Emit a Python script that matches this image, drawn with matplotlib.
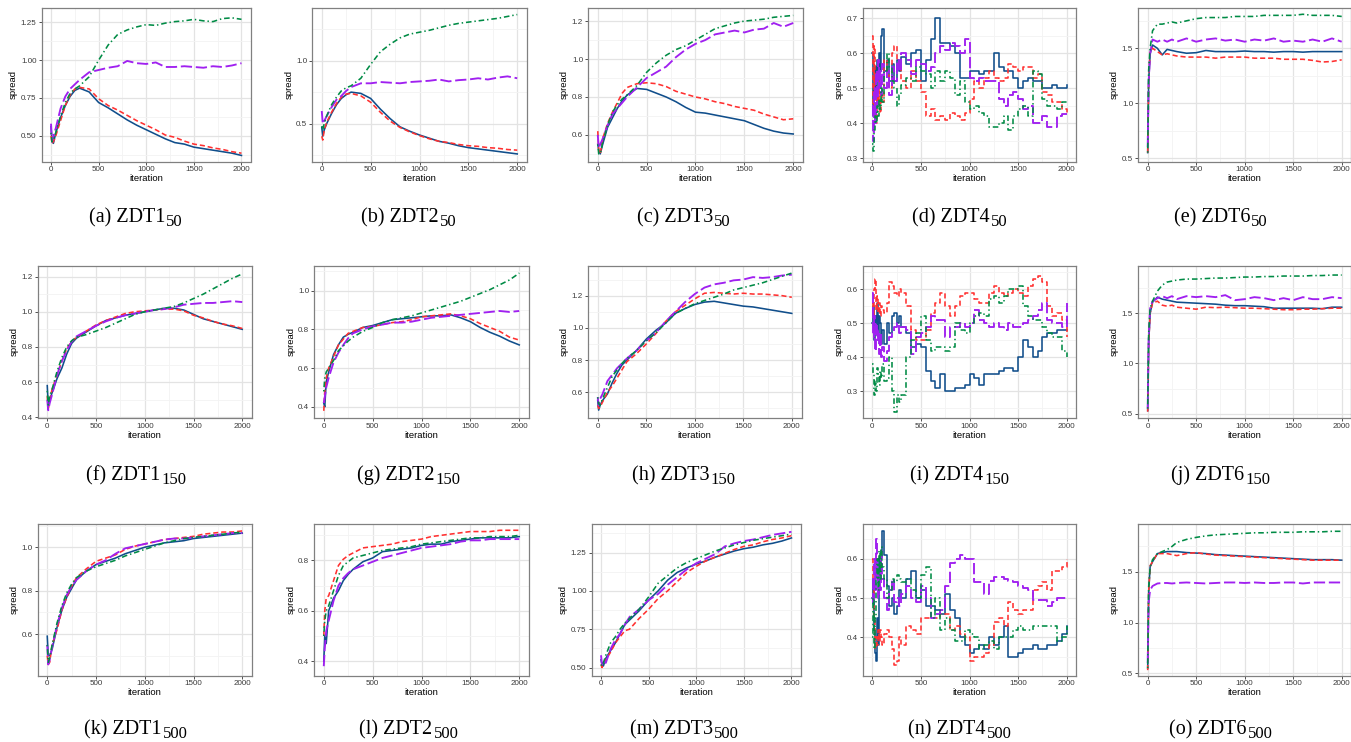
import matplotlib
matplotlib.use("Agg")
import matplotlib.pyplot as plt
from matplotlib.ticker import AutoMinorLocator, FixedLocator

plt.rcParams['font.family'] = ['Liberation Sans', 'DejaVu Sans']

# iteration grids
it_smooth = [0, 10, 25, 50, 100, 150, 200, 250, 300, 400, 500, 600, 700, 800, 900,
             1000, 1100, 1200, 1300, 1400, 1500, 1600, 1700, 1800, 1900, 2000]
it_rough = [0, 10, 20, 30, 40, 50, 60, 70, 80, 90, 100, 125, 150, 175, 200, 225, 250, 275, 300,
            350, 400, 450, 500, 550, 600, 650, 700, 750, 800, 850, 900, 950, 1000, 1050, 1100,
            1150, 1200, 1250, 1300, 1350, 1400, 1450, 1500, 1550, 1600, 1650, 1700, 1750, 1800,
            1850, 1900, 1950, 2000]

# ---- ZDT1, 50
zdt1_50_blue = [0.56, 0.47, 0.45, 0.52, 0.62, 0.70, 0.76, 0.80, 0.815, 0.79, 0.72, 0.685, 0.645, 0.605, 0.57, 0.54, 0.51, 0.48, 0.455, 0.445, 0.425, 0.415, 0.405, 0.395, 0.385, 0.37]
zdt1_50_red = [0.50, 0.45, 0.46, 0.50, 0.60, 0.70, 0.77, 0.81, 0.82, 0.81, 0.745, 0.70, 0.67, 0.635, 0.60, 0.57, 0.54, 0.505, 0.49, 0.465, 0.445, 0.435, 0.42, 0.41, 0.395, 0.385]
zdt1_50_purple = [0.58, 0.46, 0.50, 0.55, 0.68, 0.76, 0.81, 0.84, 0.87, 0.92, 0.935, 0.95, 0.96, 0.995, 0.98, 0.975, 0.985, 0.955, 0.955, 0.96, 0.955, 0.95, 0.96, 0.955, 0.965, 0.98]
zdt1_50_green = [0.52, 0.46, 0.47, 0.52, 0.63, 0.72, 0.78, 0.81, 0.83, 0.89, 1.00, 1.10, 1.17, 1.20, 1.22, 1.235, 1.23, 1.245, 1.255, 1.26, 1.27, 1.26, 1.255, 1.275, 1.28, 1.27]

# ---- ZDT2, 50
zdt2_50_blue = [0.47, 0.40, 0.45, 0.50, 0.58, 0.65, 0.70, 0.73, 0.75, 0.74, 0.70, 0.615, 0.54, 0.475, 0.44, 0.41, 0.385, 0.36, 0.345, 0.325, 0.31, 0.30, 0.29, 0.28, 0.27, 0.26]
zdt2_50_red = [0.40, 0.37, 0.45, 0.51, 0.59, 0.66, 0.71, 0.735, 0.74, 0.72, 0.67, 0.59, 0.52, 0.47, 0.435, 0.405, 0.38, 0.36, 0.35, 0.335, 0.325, 0.32, 0.31, 0.305, 0.295, 0.29]
zdt2_50_purple = [0.60, 0.50, 0.52, 0.56, 0.63, 0.69, 0.72, 0.76, 0.79, 0.82, 0.82, 0.83, 0.825, 0.82, 0.83, 0.835, 0.84, 0.85, 0.835, 0.845, 0.85, 0.86, 0.85, 0.865, 0.875, 0.86]
zdt2_50_green = [0.48, 0.45, 0.50, 0.56, 0.65, 0.71, 0.76, 0.785, 0.80, 0.86, 0.97, 1.07, 1.13, 1.18, 1.21, 1.225, 1.24, 1.26, 1.28, 1.295, 1.305, 1.315, 1.325, 1.335, 1.35, 1.365]

# ---- ZDT3, 50
zdt3_50_blue = [0.55, 0.52, 0.50, 0.55, 0.64, 0.69, 0.74, 0.78, 0.81, 0.845, 0.84, 0.82, 0.80, 0.775, 0.745, 0.72, 0.715, 0.705, 0.695, 0.685, 0.675, 0.655, 0.635, 0.62, 0.61, 0.605]
zdt3_50_red = [0.62, 0.52, 0.50, 0.58, 0.66, 0.72, 0.77, 0.82, 0.85, 0.87, 0.875, 0.87, 0.855, 0.83, 0.815, 0.80, 0.79, 0.775, 0.765, 0.75, 0.74, 0.73, 0.71, 0.695, 0.68, 0.685]
zdt3_50_purple = [0.60, 0.53, 0.55, 0.58, 0.65, 0.71, 0.74, 0.77, 0.80, 0.85, 0.90, 0.93, 0.96, 1.01, 1.05, 1.08, 1.10, 1.13, 1.14, 1.15, 1.14, 1.155, 1.16, 1.19, 1.17, 1.19]
zdt3_50_green = [0.55, 0.50, 0.50, 0.56, 0.65, 0.72, 0.76, 0.79, 0.81, 0.86, 0.93, 0.98, 1.02, 1.05, 1.07, 1.10, 1.13, 1.16, 1.175, 1.19, 1.20, 1.205, 1.21, 1.22, 1.225, 1.23]

# ---- ZDT4, 50
zdt4_50_blue = [0.60, 0.42, 0.50, 0.56, 0.47, 0.58, 0.52, 0.60, 0.55, 0.65, 0.67, 0.55, 0.58, 0.52, 0.57, 0.52, 0.58, 0.55, 0.59,
                0.57, 0.60, 0.61, 0.52, 0.58, 0.64, 0.70, 0.63, 0.63, 0.62, 0.60, 0.53, 0.53, 0.55, 0.55, 0.54, 0.55, 0.55,
                0.60, 0.56, 0.55, 0.55, 0.53, 0.50, 0.52, 0.53, 0.52, 0.52, 0.50, 0.50, 0.51, 0.50, 0.50, 0.51]
zdt4_50_red = [0.65, 0.45, 0.62, 0.48, 0.40, 0.50, 0.45, 0.52, 0.43, 0.48, 0.46, 0.58, 0.55, 0.50, 0.60, 0.62, 0.58, 0.56, 0.52,
               0.50, 0.55, 0.52, 0.49, 0.42, 0.44, 0.41, 0.42, 0.41, 0.43, 0.42, 0.41, 0.43, 0.47, 0.52, 0.50, 0.53, 0.55,
               0.53, 0.52, 0.53, 0.57, 0.56, 0.55, 0.56, 0.56, 0.53, 0.54, 0.49, 0.48, 0.46, 0.46, 0.44, 0.43]
zdt4_50_purple = [0.45, 0.35, 0.50, 0.40, 0.55, 0.45, 0.58, 0.50, 0.55, 0.48, 0.57, 0.50, 0.55, 0.48, 0.56, 0.52, 0.58, 0.55, 0.60,
                  0.58, 0.54, 0.58, 0.57, 0.55, 0.56, 0.60, 0.62, 0.61, 0.63, 0.62, 0.60, 0.64, 0.53, 0.52, 0.53, 0.52, 0.52,
                  0.52, 0.47, 0.45, 0.48, 0.49, 0.47, 0.44, 0.45, 0.40, 0.40, 0.42, 0.39, 0.39, 0.42, 0.425, 0.425]
zdt4_50_green = [0.34, 0.32, 0.38, 0.42, 0.40, 0.45, 0.42, 0.47, 0.44, 0.50, 0.46, 0.55, 0.60, 0.56, 0.52, 0.50, 0.45, 0.48, 0.51,
                 0.53, 0.52, 0.56, 0.55, 0.54, 0.50, 0.55, 0.52, 0.55, 0.53, 0.48, 0.52, 0.46, 0.44, 0.45, 0.43, 0.42, 0.39,
                 0.39, 0.40, 0.42, 0.38, 0.42, 0.44, 0.45, 0.42, 0.55, 0.54, 0.47, 0.45, 0.45, 0.44, 0.46, 0.46]

# ---- ZDT6, 50
zdt6_50_blue = [0.55, 1.20, 1.45, 1.53, 1.50, 1.44, 1.49, 1.48, 1.47, 1.455, 1.46, 1.48, 1.47, 1.47, 1.47, 1.475, 1.47, 1.47, 1.465, 1.47, 1.47, 1.465, 1.47, 1.47, 1.47, 1.47]
zdt6_50_red = [0.55, 1.20, 1.48, 1.50, 1.47, 1.44, 1.45, 1.44, 1.43, 1.42, 1.42, 1.42, 1.41, 1.42, 1.42, 1.42, 1.41, 1.41, 1.41, 1.40, 1.40, 1.40, 1.39, 1.375, 1.38, 1.395]
zdt6_50_purple = [0.60, 1.20, 1.45, 1.58, 1.56, 1.58, 1.56, 1.58, 1.56, 1.59, 1.56, 1.58, 1.59, 1.57, 1.58, 1.56, 1.58, 1.57, 1.59, 1.56, 1.57, 1.56, 1.58, 1.56, 1.59, 1.56]
zdt6_50_green = [0.55, 1.30, 1.50, 1.66, 1.72, 1.72, 1.73, 1.74, 1.73, 1.75, 1.77, 1.78, 1.78, 1.78, 1.79, 1.79, 1.79, 1.80, 1.80, 1.80, 1.80, 1.81, 1.80, 1.80, 1.80, 1.79]

# ---- ZDT1, 150
zdt1_150_blue = [0.58, 0.47, 0.50, 0.54, 0.62, 0.68, 0.76, 0.82, 0.85, 0.885, 0.92, 0.95, 0.965, 0.98, 0.99, 1.00, 1.01, 1.02, 1.02, 1.01, 0.985, 0.96, 0.945, 0.93, 0.915, 0.90]
zdt1_150_red = [0.52, 0.44, 0.50, 0.56, 0.64, 0.72, 0.79, 0.83, 0.855, 0.89, 0.925, 0.95, 0.97, 0.99, 1.00, 1.005, 1.01, 1.015, 1.015, 1.005, 0.98, 0.965, 0.945, 0.93, 0.92, 0.905]
zdt1_150_purple = [0.50, 0.44, 0.48, 0.53, 0.64, 0.72, 0.78, 0.83, 0.86, 0.89, 0.92, 0.945, 0.965, 0.98, 0.99, 1.00, 1.01, 1.015, 1.025, 1.04, 1.045, 1.05, 1.05, 1.055, 1.06, 1.055]
zdt1_150_green = [0.55, 0.47, 0.52, 0.56, 0.66, 0.74, 0.80, 0.835, 0.855, 0.87, 0.89, 0.91, 0.935, 0.96, 0.985, 1.00, 1.01, 1.02, 1.03, 1.05, 1.075, 1.10, 1.13, 1.16, 1.19, 1.215]

# ---- ZDT2, 150
zdt2_150_blue = [0.42, 0.40, 0.53, 0.58, 0.67, 0.72, 0.76, 0.775, 0.785, 0.81, 0.82, 0.835, 0.85, 0.855, 0.86, 0.865, 0.87, 0.87, 0.875, 0.86, 0.84, 0.81, 0.785, 0.765, 0.74, 0.72]
zdt2_150_red = [0.38, 0.48, 0.55, 0.60, 0.66, 0.72, 0.75, 0.78, 0.79, 0.81, 0.815, 0.825, 0.835, 0.84, 0.85, 0.865, 0.87, 0.875, 0.88, 0.87, 0.855, 0.83, 0.81, 0.79, 0.76, 0.745]
zdt2_150_purple = [0.42, 0.45, 0.50, 0.55, 0.63, 0.68, 0.72, 0.755, 0.78, 0.80, 0.815, 0.825, 0.835, 0.835, 0.84, 0.85, 0.86, 0.865, 0.87, 0.875, 0.88, 0.885, 0.89, 0.895, 0.89, 0.895]
zdt2_150_green = [0.48, 0.55, 0.58, 0.60, 0.64, 0.69, 0.715, 0.74, 0.76, 0.79, 0.81, 0.835, 0.85, 0.86, 0.87, 0.885, 0.90, 0.915, 0.93, 0.945, 0.965, 0.985, 1.005, 1.03, 1.055, 1.09]

# ---- ZDT3, 150
zdt3_150_blue = [0.55, 0.49, 0.52, 0.55, 0.59, 0.66, 0.72, 0.77, 0.80, 0.86, 0.93, 0.985, 1.03, 1.09, 1.12, 1.145, 1.16, 1.165, 1.155, 1.145, 1.135, 1.13, 1.12, 1.11, 1.10, 1.09]
zdt3_150_red = [0.52, 0.50, 0.51, 0.54, 0.60, 0.64, 0.69, 0.74, 0.79, 0.84, 0.90, 0.965, 1.04, 1.10, 1.14, 1.18, 1.215, 1.22, 1.215, 1.21, 1.215, 1.21, 1.21, 1.205, 1.20, 1.19]
zdt3_150_purple = [0.57, 0.52, 0.56, 0.59, 0.67, 0.71, 0.75, 0.78, 0.81, 0.86, 0.92, 0.97, 1.04, 1.10, 1.16, 1.21, 1.25, 1.27, 1.28, 1.295, 1.30, 1.315, 1.31, 1.315, 1.325, 1.33]
zdt3_150_green = [0.57, 0.53, 0.52, 0.56, 0.63, 0.70, 0.74, 0.78, 0.81, 0.86, 0.92, 0.97, 1.03, 1.09, 1.12, 1.15, 1.17, 1.19, 1.21, 1.235, 1.25, 1.265, 1.28, 1.30, 1.32, 1.34]

# ---- ZDT4, 150
zdt4_150_blue = [0.50, 0.55, 0.45, 0.52, 0.48, 0.56, 0.47, 0.52, 0.50, 0.44, 0.48, 0.44, 0.50, 0.47, 0.52, 0.53, 0.50, 0.52, 0.49,
                 0.47, 0.43, 0.44, 0.43, 0.36, 0.33, 0.31, 0.35, 0.30, 0.30, 0.31, 0.31, 0.32, 0.35, 0.34, 0.32, 0.35, 0.35,
                 0.35, 0.36, 0.37, 0.37, 0.36, 0.40, 0.45, 0.43, 0.40, 0.42, 0.46, 0.47, 0.47, 0.48, 0.48, 0.48]
zdt4_150_red = [0.56, 0.52, 0.60, 0.63, 0.54, 0.58, 0.53, 0.56, 0.52, 0.55, 0.54, 0.53, 0.56, 0.62, 0.61, 0.59, 0.58, 0.60, 0.59,
                0.55, 0.48, 0.45, 0.45, 0.48, 0.53, 0.56, 0.59, 0.55, 0.52, 0.55, 0.58, 0.59, 0.59, 0.57, 0.56, 0.56, 0.59,
                0.61, 0.59, 0.58, 0.59, 0.60, 0.59, 0.58, 0.61, 0.63, 0.64, 0.62, 0.55, 0.52, 0.53, 0.51, 0.46]
zdt4_150_purple = [0.59, 0.46, 0.52, 0.42, 0.50, 0.45, 0.48, 0.41, 0.47, 0.40, 0.43, 0.39, 0.42, 0.46, 0.47, 0.49, 0.50, 0.47, 0.49,
                   0.48, 0.41, 0.46, 0.47, 0.49, 0.52, 0.51, 0.51, 0.46, 0.49, 0.49, 0.50, 0.49, 0.50, 0.54, 0.51, 0.50, 0.49,
                   0.50, 0.49, 0.48, 0.50, 0.49, 0.49, 0.50, 0.51, 0.52, 0.54, 0.56, 0.51, 0.50, 0.50, 0.49, 0.56]
zdt4_150_green = [0.38, 0.35, 0.29, 0.33, 0.30, 0.37, 0.35, 0.32, 0.36, 0.34, 0.38, 0.33, 0.34, 0.40, 0.30, 0.24, 0.29, 0.27, 0.29,
                  0.40, 0.45, 0.47, 0.52, 0.45, 0.42, 0.43, 0.43, 0.42, 0.43, 0.50, 0.48, 0.47, 0.50, 0.52, 0.53, 0.52, 0.57,
                  0.58, 0.56, 0.58, 0.60, 0.60, 0.61, 0.55, 0.52, 0.51, 0.51, 0.49, 0.47, 0.46, 0.46, 0.42, 0.40]

# ---- ZDT6, 150
zdt6_150_blue = [0.53, 1.20, 1.50, 1.61, 1.66, 1.64, 1.63, 1.62, 1.61, 1.605, 1.60, 1.595, 1.59, 1.58, 1.575, 1.575, 1.57, 1.565, 1.55, 1.55, 1.55, 1.55, 1.55, 1.545, 1.56, 1.56]
zdt6_150_red = [0.52, 1.20, 1.50, 1.60, 1.62, 1.58, 1.57, 1.58, 1.56, 1.55, 1.54, 1.56, 1.555, 1.56, 1.555, 1.55, 1.55, 1.545, 1.54, 1.535, 1.535, 1.54, 1.54, 1.545, 1.55, 1.55]
zdt6_150_purple = [0.55, 1.25, 1.55, 1.62, 1.65, 1.67, 1.65, 1.67, 1.64, 1.67, 1.66, 1.67, 1.66, 1.68, 1.63, 1.64, 1.66, 1.65, 1.63, 1.65, 1.63, 1.66, 1.64, 1.64, 1.66, 1.65]
zdt6_150_green = [0.55, 1.30, 1.55, 1.62, 1.72, 1.78, 1.81, 1.82, 1.83, 1.84, 1.84, 1.845, 1.85, 1.85, 1.855, 1.86, 1.86, 1.865, 1.865, 1.87, 1.87, 1.87, 1.875, 1.875, 1.88, 1.88]

# ---- ZDT1, 500
zdt1_500_blue = [0.59, 0.50, 0.50, 0.53, 0.63, 0.71, 0.77, 0.81, 0.85, 0.89, 0.92, 0.935, 0.95, 0.97, 0.985, 1.00, 1.01, 1.02, 1.025, 1.03, 1.04, 1.045, 1.05, 1.055, 1.06, 1.065]
zdt1_500_red = [0.50, 0.46, 0.47, 0.55, 0.62, 0.71, 0.77, 0.82, 0.86, 0.90, 0.935, 0.95, 0.965, 0.99, 1.005, 1.015, 1.025, 1.035, 1.04, 1.045, 1.05, 1.06, 1.065, 1.07, 1.07, 1.075]
zdt1_500_purple = [0.55, 0.46, 0.48, 0.54, 0.64, 0.72, 0.78, 0.82, 0.85, 0.89, 0.92, 0.94, 0.97, 0.995, 1.005, 1.015, 1.025, 1.035, 1.04, 1.04, 1.045, 1.05, 1.055, 1.06, 1.065, 1.065]
zdt1_500_green = [0.55, 0.47, 0.49, 0.55, 0.65, 0.73, 0.79, 0.83, 0.86, 0.89, 0.91, 0.925, 0.94, 0.96, 0.975, 0.99, 1.005, 1.02, 1.03, 1.04, 1.045, 1.05, 1.055, 1.06, 1.065, 1.07]

# ---- ZDT2, 500
zdt2_500_blue = [0.40, 0.50, 0.47, 0.60, 0.65, 0.68, 0.72, 0.745, 0.765, 0.795, 0.81, 0.835, 0.84, 0.845, 0.85, 0.86, 0.865, 0.865, 0.875, 0.88, 0.885, 0.89, 0.89, 0.89, 0.89, 0.895]
zdt2_500_red = [0.50, 0.60, 0.65, 0.66, 0.72, 0.78, 0.805, 0.82, 0.83, 0.85, 0.855, 0.86, 0.865, 0.875, 0.88, 0.885, 0.895, 0.90, 0.905, 0.91, 0.915, 0.915, 0.915, 0.92, 0.92, 0.92]
zdt2_500_purple = [0.38, 0.45, 0.52, 0.56, 0.64, 0.70, 0.73, 0.75, 0.765, 0.78, 0.795, 0.81, 0.82, 0.83, 0.84, 0.85, 0.855, 0.86, 0.865, 0.875, 0.88, 0.88, 0.885, 0.885, 0.885, 0.885]
zdt2_500_green = [0.50, 0.56, 0.60, 0.62, 0.68, 0.74, 0.78, 0.795, 0.81, 0.82, 0.83, 0.84, 0.845, 0.85, 0.855, 0.865, 0.87, 0.875, 0.88, 0.885, 0.89, 0.89, 0.895, 0.895, 0.895, 0.90]

# ---- ZDT3, 500
zdt3_500_blue = [0.55, 0.52, 0.51, 0.56, 0.61, 0.66, 0.72, 0.78, 0.81, 0.87, 0.94, 1.00, 1.07, 1.12, 1.15, 1.175, 1.195, 1.22, 1.24, 1.26, 1.275, 1.285, 1.30, 1.31, 1.325, 1.345]
zdt3_500_red = [0.52, 0.50, 0.53, 0.55, 0.60, 0.66, 0.70, 0.74, 0.75, 0.82, 0.88, 0.95, 1.00, 1.06, 1.12, 1.16, 1.195, 1.22, 1.245, 1.27, 1.29, 1.30, 1.32, 1.335, 1.345, 1.36]
zdt3_500_purple = [0.58, 0.52, 0.55, 0.53, 0.62, 0.68, 0.72, 0.78, 0.83, 0.88, 0.94, 0.98, 1.04, 1.09, 1.14, 1.18, 1.21, 1.24, 1.29, 1.31, 1.325, 1.335, 1.35, 1.365, 1.375, 1.385]
zdt3_500_green = [0.52, 0.51, 0.53, 0.58, 0.66, 0.70, 0.75, 0.79, 0.82, 0.88, 0.96, 1.05, 1.10, 1.15, 1.185, 1.21, 1.235, 1.26, 1.28, 1.30, 1.315, 1.33, 1.34, 1.35, 1.36, 1.37]

# ---- ZDT4, 500
zdt4_500_blue = [0.50, 0.55, 0.42, 0.36, 0.34, 0.45, 0.38, 0.60, 0.55, 0.62, 0.67, 0.61, 0.53, 0.48, 0.50, 0.46, 0.48, 0.52, 0.50,
                 0.55, 0.57, 0.50, 0.52, 0.48, 0.48, 0.47, 0.46, 0.51, 0.47, 0.45, 0.40, 0.38, 0.36, 0.37, 0.38, 0.37, 0.40,
                 0.38, 0.40, 0.43, 0.35, 0.35, 0.36, 0.37, 0.37, 0.38, 0.37, 0.37, 0.38, 0.38, 0.39, 0.41, 0.43]
zdt4_500_red = [0.60, 0.55, 0.45, 0.37, 0.40, 0.38, 0.42, 0.39, 0.42, 0.40, 0.38, 0.41, 0.42, 0.40, 0.37, 0.33, 0.34, 0.40, 0.38,
                0.43, 0.42, 0.41, 0.45, 0.45, 0.45, 0.45, 0.46, 0.46, 0.42, 0.43, 0.41, 0.40, 0.34, 0.35, 0.35, 0.36, 0.38,
                0.44, 0.45, 0.43, 0.49, 0.47, 0.46, 0.47, 0.47, 0.52, 0.53, 0.54, 0.52, 0.57, 0.57, 0.58, 0.60]
zdt4_500_purple = [0.55, 0.48, 0.60, 0.52, 0.65, 0.55, 0.50, 0.58, 0.52, 0.62, 0.55, 0.50, 0.47, 0.52, 0.55, 0.49, 0.50, 0.48, 0.51,
                   0.53, 0.50, 0.49, 0.53, 0.50, 0.45, 0.46, 0.47, 0.53, 0.59, 0.60, 0.61, 0.60, 0.60, 0.54, 0.54, 0.51, 0.545,
                   0.555, 0.555, 0.55, 0.545, 0.54, 0.53, 0.525, 0.52, 0.495, 0.495, 0.495, 0.48, 0.49, 0.50, 0.50, 0.495]
zdt4_500_green = [0.40, 0.50, 0.37, 0.45, 0.55, 0.60, 0.52, 0.62, 0.55, 0.63, 0.58, 0.55, 0.50, 0.52, 0.55, 0.54, 0.56, 0.55, 0.54,
                  0.55, 0.52, 0.50, 0.56, 0.58, 0.45, 0.50, 0.42, 0.45, 0.42, 0.39, 0.39, 0.42, 0.41, 0.40, 0.37, 0.38, 0.39,
                  0.37, 0.40, 0.40, 0.40, 0.42, 0.43, 0.42, 0.42, 0.43, 0.43, 0.43, 0.43, 0.43, 0.39, 0.40, 0.43]

# ---- ZDT6, 500
zdt6_500_blue = [0.55, 1.30, 1.55, 1.60, 1.68, 1.69, 1.70, 1.70, 1.70, 1.69, 1.685, 1.68, 1.67, 1.665, 1.66, 1.655, 1.65, 1.645, 1.64, 1.635, 1.63, 1.625, 1.62, 1.62, 1.62, 1.615]
zdt6_500_red = [0.53, 1.30, 1.56, 1.60, 1.68, 1.68, 1.68, 1.67, 1.66, 1.68, 1.69, 1.675, 1.665, 1.66, 1.655, 1.65, 1.645, 1.64, 1.635, 1.63, 1.625, 1.62, 1.615, 1.615, 1.615, 1.615]
zdt6_500_purple = [0.60, 1.20, 1.32, 1.36, 1.385, 1.39, 1.39, 1.385, 1.39, 1.395, 1.39, 1.385, 1.39, 1.395, 1.395, 1.39, 1.395, 1.39, 1.39, 1.395, 1.395, 1.385, 1.395, 1.395, 1.395, 1.395]
zdt6_500_green = [0.55, 1.35, 1.55, 1.62, 1.68, 1.70, 1.72, 1.75, 1.79, 1.82, 1.84, 1.855, 1.865, 1.87, 1.875, 1.88, 1.885, 1.885, 1.89, 1.89, 1.89, 1.895, 1.895, 1.895, 1.90, 1.90]

# y ticks per panel
ticks_a = [0.50, 0.75, 1.00, 1.25]
ticks_b = [0.5, 1.0]
ticks_c = [0.6, 0.8, 1.0, 1.2]
ticks_d = [0.3, 0.4, 0.5, 0.6, 0.7]
ticks_e = [0.5, 1.0, 1.5]
ticks_f = [0.4, 0.6, 0.8, 1.0, 1.2]
ticks_g = [0.4, 0.6, 0.8, 1.0]
ticks_h = [0.6, 0.8, 1.0, 1.2]
ticks_i = [0.3, 0.4, 0.5, 0.6]
ticks_j = [0.5, 1.0, 1.5]
ticks_k = [0.6, 0.8, 1.0]
ticks_l = [0.4, 0.6, 0.8]
ticks_m = [0.50, 0.75, 1.00, 1.25]
ticks_n = [0.4, 0.5, 0.6]
ticks_o = [0.5, 1.0, 1.5]

# (tag, problem, size, x, series, yticks, decimals, ylim)
panels = [
    ('a', 'ZDT1', '50', it_smooth, [zdt1_50_blue, zdt1_50_red, zdt1_50_purple, zdt1_50_green], ticks_a, 2, (0.33, 1.345)),
    ('b', 'ZDT2', '50', it_smooth, [zdt2_50_blue, zdt2_50_red, zdt2_50_purple, zdt2_50_green], ticks_b, 1, (0.20, 1.417)),
    ('c', 'ZDT3', '50', it_smooth, [zdt3_50_blue, zdt3_50_red, zdt3_50_purple, zdt3_50_green], ticks_c, 1, (0.46, 1.269)),
    ('d', 'ZDT4', '50', it_rough, [zdt4_50_blue, zdt4_50_red, zdt4_50_purple, zdt4_50_green], ticks_d, 1, (0.29, 0.729)),
    ('e', 'ZDT6', '50', it_smooth, [zdt6_50_blue, zdt6_50_red, zdt6_50_purple, zdt6_50_green], ticks_e, 1, (0.469, 1.867)),
    ('f', 'ZDT1', '150', it_smooth, [zdt1_150_blue, zdt1_150_red, zdt1_150_purple, zdt1_150_green], ticks_f, 1, (0.396, 1.26)),
    ('g', 'ZDT2', '150', it_smooth, [zdt2_150_blue, zdt2_150_red, zdt2_150_purple, zdt2_150_green], ticks_g, 1, (0.343, 1.127)),
    ('h', 'ZDT3', '150', it_smooth, [zdt3_150_blue, zdt3_150_red, zdt3_150_purple, zdt3_150_green], ticks_h, 1, (0.441, 1.384)),
    ('i', 'ZDT4', '150', it_rough, [zdt4_150_blue, zdt4_150_red, zdt4_150_purple, zdt4_150_green], ticks_i, 1, (0.222, 0.668)),
    ('j', 'ZDT6', '150', it_smooth, [zdt6_150_blue, zdt6_150_red, zdt6_150_purple, zdt6_150_green], ticks_j, 1, (0.457, 1.97)),
    ('k', 'ZDT1', '500', it_smooth, [zdt1_500_blue, zdt1_500_red, zdt1_500_purple, zdt1_500_green], ticks_k, 1, (0.409, 1.107)),
    ('l', 'ZDT2', '500', it_smooth, [zdt2_500_blue, zdt2_500_red, zdt2_500_purple, zdt2_500_green], ticks_l, 1, (0.343, 0.945)),
    ('m', 'ZDT3', '500', it_smooth, [zdt3_500_blue, zdt3_500_red, zdt3_500_purple, zdt3_500_green], ticks_m, 2, (0.448, 1.436)),
    ('n', 'ZDT4', '500', it_rough, [zdt4_500_blue, zdt4_500_red, zdt4_500_purple, zdt4_500_green], ticks_n, 1, (0.303, 0.689)),
    ('o', 'ZDT6', '500', it_smooth, [zdt6_500_blue, zdt6_500_red, zdt6_500_purple, zdt6_500_green], ticks_o, 1, (0.477, 1.972)),
]

# layout in pixels (frame left/right per panel, top/bottom per row)
W, H = 1351, 742
frame_x = [(41.5, 251), (312, 527), (588, 803), (862.6, 1076.4), (1138, 1351.4),
           (37.5, 252), (314, 529), (588, 801.5), (862.6, 1076.4), (1138, 1351.4),
           (37.5, 252), (314, 529), (591.5, 801), (862.6, 1076.4), (1138, 1351.4)]
row_y = [(8, 161.5), (266, 418), (524, 675.5)]
caption_x = [136, 409, 684, 960, 1221]
caption_base = [222, 480, 734]

colors = ['#104E8B', '#FF3030', '#A020F0', '#008B45']
dashes = [None, (3.2, 1.8), (6.0, 2.0), (0.9, 1.8, 3.5, 1.8)]
widths = [1.15, 1.15, 1.35, 1.15]

fig = plt.figure(figsize=(W / 100, H / 100), dpi=100)
renderer = fig.canvas.get_renderer()

for k, (tag, prob, size, xs, series, yt, dec, ylim) in enumerate(panels):
    row = k // 5
    col = k % 5
    x0, x1 = frame_x[k]
    y0, y1 = row_y[row]
    ax = fig.add_axes([x0 / W, 1 - y1 / H, (x1 - x0) / W, (y1 - y0) / H])

    for ys, c, d, lw in zip(series, colors, dashes, widths):
        assert len(ys) == len(xs)
        ln, = ax.plot(xs, ys, color=c, lw=lw,
                      drawstyle='steps-post' if xs is it_rough else 'default')
        if d is not None:
            ln.set_dashes(d)

    ax.set_xlim(-100, 2100)
    ax.set_ylim(*ylim)
    ax.set_xticks([0, 500, 1000, 1500, 2000])
    ax.set_xticklabels(['0', '500', '1000', '1500', '2000'])
    ax.yaxis.set_major_locator(FixedLocator(yt))
    ax.set_yticklabels([f'{v:.{dec}f}' for v in yt])
    ax.xaxis.set_minor_locator(AutoMinorLocator(2))
    ax.yaxis.set_minor_locator(AutoMinorLocator(2))

    ax.grid(which='major', color='#E3E3E3', lw=0.9)
    ax.grid(which='minor', color='#F3F3F3', lw=0.6)
    ax.set_axisbelow(True)
    for s in ax.spines.values():
        s.set_color('#808080')
        s.set_linewidth(0.9)
    ax.tick_params(which='major', length=2, width=0.6, color='#333333',
                   labelsize=5.8, labelcolor='#3A3A3A', pad=1.5)
    ax.tick_params(which='minor', length=0)
    ax.set_xlabel('iteration', fontsize=6.8, labelpad=0.5)
    ax.set_ylabel('spread', fontsize=6.8, labelpad=2)

    # caption: "(x) ZDTn" with the population size as a subscript
    base = 1 - caption_base[row] / H
    t1 = fig.text(0, base, f'({tag}) {prob}', ha='left', va='baseline',
                  fontsize=14.5, family='Liberation Serif')
    t2 = fig.text(0, base - 4.5 / H, size, ha='left', va='baseline',
                  fontsize=12, family='Liberation Serif')
    w1 = t1.get_window_extent(renderer).width
    w2 = t2.get_window_extent(renderer).width
    left = caption_x[col] - (w1 + 1 + w2) / 2
    t1.set_x(left / W)
    t2.set_x((left + w1 + 1) / W)

fig.savefig('out.png', dpi=100)
